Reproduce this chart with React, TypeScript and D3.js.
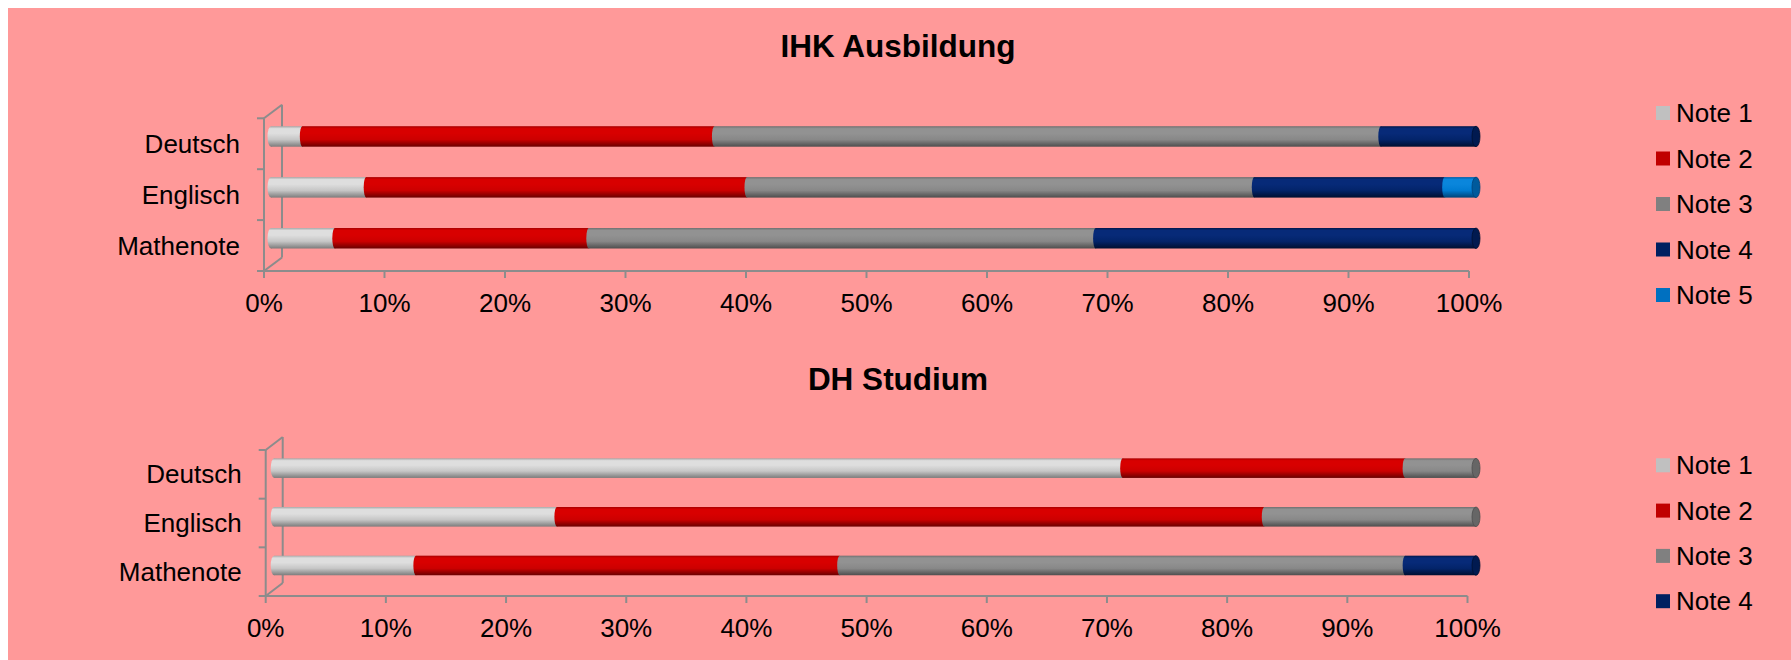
import * as d3 from "d3";

const categories = ["Deutsch", "Englisch", "Mathenote"];
const ihkSeries = ["Note 1", "Note 2", "Note 3", "Note 4", "Note 5"];
const dhSeries = ["Note 1", "Note 2", "Note 3", "Note 4"];

// IHK Ausbildung, share per grade in percent (Deutsch, Englisch, Mathenote)
const ihkNote1 = [2.6, 7.9, 5.3];
const ihkNote2 = [34.2, 31.6, 21.1];
const ihkNote3 = [55.3, 42.1, 42.1];
const ihkNote4 = [7.9, 15.8, 31.6];
const ihkNote5 = [0, 2.6, 0];

// DH Studium
const dhNote1 = [70.6, 23.5, 11.8];
const dhNote2 = [23.5, 58.8, 35.3];
const dhNote3 = [5.9, 17.6, 47.1];
const dhNote4 = [0, 0, 5.9];

const tickValues = [0, 0.1, 0.2, 0.3, 0.4, 0.5, 0.6, 0.7, 0.8, 0.9, 1];

const legendColors: Record<string, string> = {
  "Note 1": "#c0c0c0",
  "Note 2": "#c00000",
  "Note 3": "#808080",
  "Note 4": "#002060",
  "Note 5": "#0070c0",
};

// top, light band, mid, bottom of the cylinder shading
const barShades: Record<string, string[]> = {
  "Note 1": ["#a8a8a8", "#dedede", "#c6c6c6", "#7c7c7c"],
  "Note 2": ["#a80000", "#d80000", "#cc0000", "#6a0000"],
  "Note 3": ["#707070", "#929292", "#888888", "#4e4e4e"],
  "Note 4": ["#02184a", "#072a78", "#03246a", "#000f30"],
  "Note 5": ["#005ea8", "#0a86dc", "#007cd2", "#004378"],
};
const capColors: Record<string, string> = {
  "Note 1": "#9a9a9a",
  "Note 2": "#8a0000",
  "Note 3": "#666666",
  "Note 4": "#011a50",
  "Note 5": "#005a9c",
};

const FONT = "'Liberation Sans', Arial, Helvetica, sans-serif";
const AXIS = "#8c8c8c";
const OFF = 8; // svg sits at the body margin
const LABEL_SIZE = 26;

type Layout = {
  id: string;
  title: string;
  titleY: number;
  x0: number;
  x1: number;
  yTop: number;
  yBot: number;
  depthX: number;
  depthY: number;
  barDx: number;
  barDy: number;
  barH: number;
  legendY0: number;
  legendStep: number;
};

function StackedChart({
  layout,
  series,
  values,
}: {
  layout: Layout;
  series: string[];
  values: number[][];
}) {
  const L = layout;
  const rows = categories.map((c, i) => {
    const r: Record<string, number | string> = { cat: c };
    series.forEach((s, k) => (r[s] = values[k][i]));
    return r;
  });
  const stacked = d3
    .stack<Record<string, number | string>>()
    .keys(series)
    .value((d, key) => d[key] as number)
    .offset(d3.stackOffsetExpand)(rows);

  const x = d3.scaleLinear().domain([0, 1]).range([L.x0, L.x1]);
  const y = d3.scaleBand().domain(categories).range([L.yTop, L.yBot]).padding(0);
  const bw = y.bandwidth();

  const barY = (c: string) => y(c)! + bw / 2 + L.barDy - L.barH / 2;
  const gid = (s: string) => `${L.id}-g-${s.replace(" ", "")}`;

  return (
    <g>
      <defs>
        {series.map((s) => (
          <linearGradient key={s} id={gid(s)} x1="0" y1="0" x2="0" y2="1">
            <stop offset="0%" stopColor={barShades[s][0]} />
            <stop offset="12%" stopColor={barShades[s][1]} />
            <stop offset="35%" stopColor={barShades[s][1]} />
            <stop offset="65%" stopColor={barShades[s][2]} />
            <stop offset="100%" stopColor={barShades[s][3]} />
          </linearGradient>
        ))}
      </defs>

      <text
        x={898}
        y={L.titleY}
        textAnchor="middle"
        fontFamily={FONT}
        fontWeight="bold"
        fontSize={31.5}
        fill="#000"
      >
        {L.title}
      </text>

      {/* 3D wall and axes */}
      <g stroke={AXIS} strokeWidth={2} fill="none">
        <line x1={L.x0} x2={L.x0} y1={L.yTop} y2={L.yBot} />
        <line x1={L.x0} x2={L.x0 + L.depthX} y1={L.yTop} y2={L.yTop + L.depthY} />
        <line
          x1={L.x0 + L.depthX}
          x2={L.x0 + L.depthX}
          y1={L.yTop + L.depthY}
          y2={L.yBot + L.depthY}
        />
        <line x1={L.x0} x2={L.x0 + L.depthX} y1={L.yBot} y2={L.yBot + L.depthY} />
        {[...categories.map((c) => y(c)!), L.yBot].map((t, i) => (
          <line key={i} x1={L.x0 - 7} x2={L.x0} y1={t} y2={t} />
        ))}
        <line x1={L.x0} x2={L.x1} y1={L.yBot} y2={L.yBot} />
        {tickValues.map((t) => (
          <line key={t} x1={x(t)} x2={x(t)} y1={L.yBot} y2={L.yBot + 7} />
        ))}
      </g>

      {/* x tick labels */}
      {tickValues.map((t) => (
        <text
          key={t}
          x={x(t)}
          y={L.yBot + 41}
          textAnchor="middle"
          fontFamily={FONT}
          fontSize={LABEL_SIZE}
          fill="#000"
        >
          {d3.format(".0%")(t)}
        </text>
      ))}

      {/* category labels */}
      {categories.map((c) => (
        <text
          key={c}
          x={L.x0 - 24}
          y={y(c)! + bw / 2 + 9}
          textAnchor="end"
          fontFamily={FONT}
          fontSize={LABEL_SIZE}
          fill="#000"
        >
          {c}
        </text>
      ))}

      {/* bars */}
      {categories.map((c, i) => {
        const segs = stacked
          .map((layer) => ({ key: layer.key, a: layer[i][0], b: layer[i][1] }))
          .filter((s) => s.b - s.a > 1e-6);
        const by = barY(c);
        const first = segs[0];
        const last = segs[segs.length - 1];
        return (
          <g key={c}>
            <ellipse
              cx={x(first.a) + L.barDx}
              cy={by + L.barH / 2}
              rx={3.5}
              ry={L.barH / 2}
              fill={`url(#${gid(first.key)})`}
            />
            {segs.map((s) => (
              <rect
                key={s.key}
                x={x(s.a) + L.barDx}
                y={by}
                width={Math.max(0, x(s.b) - x(s.a))}
                height={L.barH}
                fill={`url(#${gid(s.key)})`}
              />
            ))}
            {segs.slice(1).map((s) => (
              <ellipse
                key={"e" + s.key}
                cx={x(s.a) + L.barDx}
                cy={by + L.barH / 2}
                rx={2.5}
                ry={L.barH / 2}
                fill={`url(#${gid(s.key)})`}
              />
            ))}
            <ellipse
              cx={x(last.b) + L.barDx}
              cy={by + L.barH / 2}
              rx={4}
              ry={L.barH / 2}
              fill={capColors[last.key]}
              stroke={barShades[last.key][3]}
              strokeWidth={0.8}
            />
          </g>
        );
      })}

      {/* legend */}
      {series.map((s, k) => {
        const cy = L.legendY0 + k * L.legendStep;
        return (
          <g key={s}>
            <rect x={1656} y={cy - 7} width={14} height={14} fill={legendColors[s]} />
            <text x={1676} y={cy + 9} fontFamily={FONT} fontSize={LABEL_SIZE} fill="#000">
              {s}
            </text>
          </g>
        );
      })}
    </g>
  );
}

const ihkLayout: Layout = {
  id: "ihk",
  title: "IHK Ausbildung",
  titleY: 57,
  x0: 264,
  x1: 1469,
  yTop: 118.3,
  yBot: 271,
  depthX: 18,
  depthY: -13.5,
  barDx: 7,
  barDy: -7.3,
  barH: 20.5,
  legendY0: 113,
  legendStep: 45.5,
};

const dhLayout: Layout = {
  id: "dh",
  title: "DH Studium",
  titleY: 390,
  x0: 265.7,
  x1: 1467.5,
  yTop: 450,
  yBot: 596,
  depthX: 17,
  depthY: -13,
  barDx: 8.5,
  barDy: -6.2,
  barH: 19.6,
  legendY0: 465.3,
  legendStep: 45.3,
};

export default function App() {
  return (
    <svg
      width={1783}
      height={652}
      style={{ position: "fixed", left: OFF, top: OFF, display: "block" }}
    >
      <rect x={0} y={0} width={1783} height={652} fill="#ff9999" />
      <g transform={`translate(${-OFF},${-OFF})`}>
        <StackedChart
          layout={ihkLayout}
          series={ihkSeries}
          values={[ihkNote1, ihkNote2, ihkNote3, ihkNote4, ihkNote5]}
        />
        <StackedChart
          layout={dhLayout}
          series={dhSeries}
          values={[dhNote1, dhNote2, dhNote3, dhNote4]}
        />
      </g>
    </svg>
  );
}
